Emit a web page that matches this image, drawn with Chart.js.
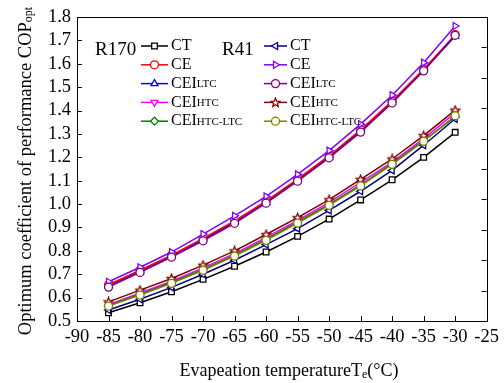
<!DOCTYPE html>
<html>
<head>
<meta charset="utf-8">
<script src="https://cdn.jsdelivr.net/npm/chart.js@4.4.0/dist/chart.umd.min.js"></script>
<style>
  html, body { margin: 0; padding: 0; background: #fff; }
</style>
</head>
<body>
<canvas id="chart" width="504" height="383"></canvas>
<script>
// evaporation temperature (°C)
const temps = [-85, -80, -75, -70, -65, -60, -55, -50, -45, -40, -35, -30];
const xTicks = [-90, -85, -80, -75, -70, -65, -60, -55, -50, -45, -40, -35, -30, -25];
const yTicks = [0.5, 0.6, 0.7, 0.8, 0.9, 1.0, 1.1, 1.2, 1.3, 1.4, 1.5, 1.6, 1.7, 1.8];

// R170
const r170CT      = [0.535, 0.578, 0.625, 0.678, 0.734, 0.795, 0.862, 0.936, 1.018, 1.104, 1.200, 1.307];
const r170CE      = [0.655, 0.717, 0.782, 0.853, 0.928, 1.013, 1.107, 1.207, 1.318, 1.441, 1.577, 1.725];
const r170CEILTC  = [0.650, 0.712, 0.777, 0.848, 0.923, 1.008, 1.102, 1.202, 1.313, 1.437, 1.573, 1.718];
const r170CEIHTC  = [0.570, 0.620, 0.670, 0.727, 0.788, 0.858, 0.930, 1.007, 1.093, 1.180, 1.280, 1.390];
const r170CEIHL   = [0.567, 0.615, 0.665, 0.721, 0.782, 0.850, 0.923, 0.999, 1.082, 1.173, 1.272, 1.373];

// R41
const r41CT       = [0.547, 0.593, 0.644, 0.700, 0.760, 0.827, 0.895, 0.973, 1.055, 1.144, 1.252, 1.365];
const r41CE       = [0.668, 0.730, 0.795, 0.872, 0.950, 1.033, 1.127, 1.229, 1.342, 1.466, 1.605, 1.762];
const r41CEILTC   = [0.645, 0.708, 0.773, 0.843, 0.918, 1.004, 1.098, 1.198, 1.308, 1.433, 1.570, 1.722];
const r41CEIHTC   = [0.582, 0.632, 0.682, 0.739, 0.800, 0.870, 0.942, 1.019, 1.106, 1.193, 1.293, 1.402];
const r41CEIHL    = [0.564, 0.611, 0.661, 0.717, 0.778, 0.845, 0.919, 0.995, 1.078, 1.170, 1.269, 1.378];

const FONT = "'Liberation Serif', 'Times New Roman', serif";

// little five point star for the R41 CEI-HTC marker
function makeStar(color) {
    const c = document.createElement("canvas");
    c.width = 11; c.height = 11;
    const g = c.getContext("2d");
    g.beginPath();
    for (let i = 0; i < 10; i++) {
        const r = i % 2 === 0 ? 4.6 : 2.0;
        const a = -Math.PI / 2 + i * Math.PI / 5;
        const px = 5.5 + r * Math.cos(a), py = 5.8 + r * Math.sin(a);
        if (i === 0) g.moveTo(px, py); else g.lineTo(px, py);
    }
    g.closePath();
    g.fillStyle = "#fff";
    g.fill();
    g.lineWidth = 1.3;
    g.strokeStyle = color;
    g.stroke();
    return c;
}

function series(label, sub, values, color, style, rotation, order) {
    return {
        label: label,
        sub: sub,
        data: values.map((v, i) => ({ x: temps[i], y: v })),
        borderColor: color,
        backgroundColor: "#fff",
        pointBackgroundColor: "#fff",
        pointBorderColor: color,
        borderWidth: 1.5,
        pointBorderWidth: 1.3,
        pointRadius: 4,
        pointStyle: style,
        pointRotation: rotation,
        tension: 0,
        order: order
    };
}

const r170Sets = [
    series("CT", "", r170CT, "#000000", "rect", 0, 10),
    series("CE", "", r170CE, "#ff0000", "circle", 0, 8),
    series("CEI", "LTC", r170CEILTC, "#0000ff", "triangle", 0, 9),
    series("CEI", "HTC", r170CEIHTC, "#ff00ff", "triangle", 180, 7),
    series("CEI", "HTC-LTC", r170CEIHL, "#008000", "rectRot", 0, 6)
];
const r41Sets = [
    series("CT", "", r41CT, "#000080", "triangle", 270, 5),
    series("CE", "", r41CE, "#8000ff", "triangle", 90, 4),
    series("CEI", "LTC", r41CEILTC, "#800080", "circle", 0, 1),
    series("CEI", "HTC", r41CEIHTC, "#800000", makeStar("#800000"), 0, 3),
    series("CEI", "HTC-LTC", r41CEIHL, "#808000", "circle", 0, 2)
];

function drawLabel(ctx, x, y, main, sub) {
    ctx.font = "16px " + FONT;
    ctx.fillText(main, x, y);
    if (sub) {
        const w = ctx.measureText(main).width;
        ctx.font = "11px " + FONT;
        ctx.fillText(sub, x + w, y + 1);
    }
}

const framePlugin = {
    id: "frame",
    afterDraw(chart) {
        const ctx = chart.ctx;
        const a = chart.chartArea;
        const xs = chart.scales.x, ys = chart.scales.y, y2 = chart.scales.y2;
        ctx.save();
        ctx.strokeStyle = "#000";
        ctx.lineWidth = 1;
        ctx.strokeRect(Math.round(a.left) + 0.5, Math.round(a.top) + 0.5,
            Math.round(a.right - a.left), Math.round(a.bottom - a.top));
        ctx.beginPath();
        xs.ticks.forEach(t => {
            const px = Math.round(xs.getPixelForValue(t.value)) + 0.5;
            ctx.moveTo(px, a.bottom); ctx.lineTo(px, a.bottom - 5);
        });
        ys.ticks.forEach(t => {
            const py = Math.round(ys.getPixelForValue(t.value)) + 0.5;
            ctx.moveTo(a.left, py); ctx.lineTo(a.left + 5, py);
        });
        y2.ticks.forEach(t => {
            const py = Math.round(y2.getPixelForValue(t.value)) + 0.5;
            ctx.moveTo(a.right, py); ctx.lineTo(a.right - 5, py);
        });
        ctx.stroke();

        // axis titles
        ctx.fillStyle = "#000";
        ctx.textBaseline = "middle";
        ctx.font = "18px " + FONT;
        const xt1 = "Evapeation temperatureT";
        const w1 = ctx.measureText(xt1).width;
        ctx.font = "12px " + FONT;
        const we = ctx.measureText("e").width;
        ctx.font = "18px " + FONT;
        const w2 = ctx.measureText("(°C)").width;
        let sx = 289 - (w1 + we + w2) / 2;
        ctx.textAlign = "left";
        ctx.fillText(xt1, sx, 371);
        ctx.font = "12px " + FONT;
        ctx.fillText("e", sx + w1, 375);
        ctx.font = "18px " + FONT;
        ctx.fillText("(°C)", sx + w1 + we, 371);

        ctx.translate(26, 171);
        ctx.rotate(-Math.PI / 2);
        ctx.font = "18.5px " + FONT;
        const yt = "Optimum coefficient of performance COP";
        const wy = ctx.measureText(yt).width;
        ctx.font = "12px " + FONT;
        const wo = ctx.measureText("opt").width;
        sx = -(wy + wo) / 2;
        ctx.font = "18.5px " + FONT;
        ctx.fillText(yt, sx, 0);
        ctx.font = "12px " + FONT;
        ctx.fillText("opt", sx + wy, 3);
        ctx.restore();

        // legend
        ctx.save();
        ctx.textBaseline = "middle";
        ctx.textAlign = "left";
        ctx.fillStyle = "#000";
        ctx.font = "19px " + FONT;
        ctx.fillText("R170", 95, 50);
        ctx.fillText("R41", 222, 50);
        const cols = [
            { sets: r170Sets, x0: 141, x1: 168, tx: 171 },
            { sets: r41Sets, x0: 264, x1: 287, tx: 290 }
        ];
        cols.forEach(col => {
            col.sets.forEach((ds, i) => {
                const y = 46 + i * 18.8;
                ctx.strokeStyle = ds.borderColor;
                ctx.lineWidth = 1.5;
                ctx.beginPath();
                ctx.moveTo(col.x0, y); ctx.lineTo(col.x1, y);
                ctx.stroke();
                ctx.fillStyle = "#fff";
                ctx.lineWidth = 1.3;
                Chart.helpers.drawPoint(ctx, {
                    pointStyle: ds.pointStyle, rotation: ds.pointRotation,
                    radius: 4, borderWidth: 1.3
                }, (col.x0 + col.x1) / 2, y);
                ctx.fillStyle = "#000";
                drawLabel(ctx, col.tx, y, ds.label, ds.sub);
            });
        });
        ctx.restore();
    }
};

new Chart(document.getElementById("chart"), {
    type: "line",
    data: { datasets: [...r170Sets, ...r41Sets] },
    options: {
        responsive: false,
        animation: false,
        layout: { padding: { top: 16, right: 17, left: 0, bottom: 0 } },
        plugins: { legend: { display: false }, tooltip: { enabled: false } },
        scales: {
            x: {
                type: "linear",
                min: -90, max: -25,
                afterFit: s => { s.height = 62; },
                afterBuildTicks: s => { s.ticks = xTicks.map(v => ({ value: v })); },
                grid: { display: false, drawTicks: false },
                border: { display: false },
                ticks: {
                    autoSkip: false, maxRotation: 0, padding: 5,
                    color: "#000", font: { family: FONT, size: 18.5 },
                    callback: v => String(v)
                }
            },
            y: {
                min: 0.5, max: 1.8,
                afterFit: s => { s.width = 77; },
                afterBuildTicks: s => { s.ticks = yTicks.map(v => ({ value: v })); },
                grid: { display: false, drawTicks: false },
                border: { display: false },
                ticks: {
                    autoSkip: false, padding: 6, color: "#000",
                    font: { family: FONT, size: 18.5 },
                    callback: v => v.toFixed(1)
                }
            },
            y2: {
                position: "right",
                min: 0, max: 10,
                afterFit: s => { s.width = 0; },
                grid: { display: false, drawTicks: false },
                border: { display: false },
                ticks: { stepSize: 1, display: false }
            }
        }
    },
    plugins: [framePlugin]
});
</script>
</body>
</html>
